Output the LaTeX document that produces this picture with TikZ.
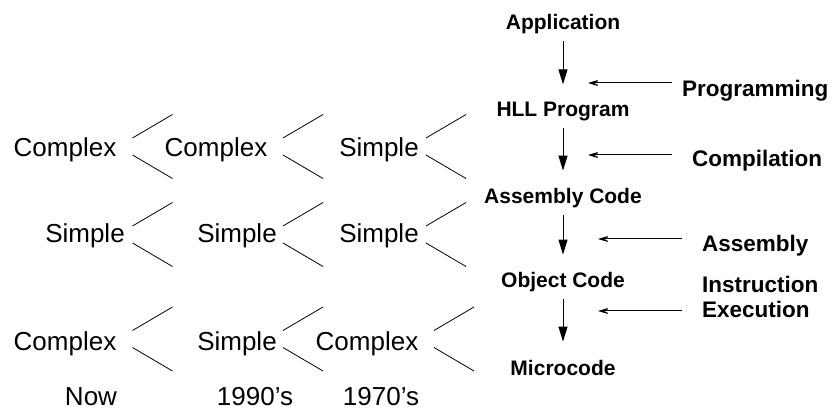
\documentclass[tikz,border=0pt]{standalone}
\usepackage{fontspec}
\setmainfont{Liberation Sans}
\usetikzlibrary{arrows.meta, positioning, calc}
\tikzset{
    era/.style      ={anchor=base, inner sep=0pt, font=\fontsize{26}{28}\selectfont},
    level/.style    ={anchor=base, inner sep=3pt, font=\bfseries\fontsize{21}{24}\selectfont},
    stage/.style    ={anchor=base west, inner sep=2pt, align=left, font=\bfseries\fontsize{22.5}{25}\selectfont},
    downarrow/.style={-{Triangle[length=15pt,width=9pt]}, line width=1pt, shorten <=3pt, shorten >=15pt},
    sidearrow/.style={-{Stealth[length=15pt,width=9pt,inset=9pt]}, line width=1pt},
    forkline/.style ={line width=0.8pt},
    fork/.pic={\draw[forkline] (0,-8.5)--(40,-32); \draw[forkline] (0,8.5)--(40,32);},
}

\begin{document}
\begin{tikzpicture}[x=1pt, y=-1pt]
    \useasboundingbox (0,0) rectangle (840,411);
    % levels of translation
    \node[level] (app) at (563,30){Application};
    \node[level] (hll) at (563,117){HLL Program};
    \node[level] (asm) at (563,204){Assembly Code};
    \node[level] (obj) at (563,288){Object Code};
    \node[level] (micro) at (563,375){Microcode};
    \draw[downarrow](app)--(hll);
    \draw[downarrow](hll)--(asm);
    \draw[downarrow](asm)--(obj);
    \draw[downarrow](obj)--(micro);
    % steps between them
    \node[stage] (prog) at (680,97){Programming};
    \node[stage] (comp) at (690,167){Compilation};
    \node[stage] (assem) at (700,252){Assembly};
    \node[stage] (exec) at (700,318){Instruction\\Execution};
    \coordinate (tprog) at (588,83);
    \coordinate (tcomp) at (588,155);
    \coordinate (tassem) at (598,239);
    \coordinate (texec) at (598,311);
    \draw[sidearrow, shorten <=8pt](tprog -| prog.west)--(tprog);
    \draw[sidearrow, shorten <=18pt](tcomp -| comp.west)--(tcomp);
    \draw[sidearrow, shorten <=18pt](tassem -| assem.west)--(tassem);
    \draw[sidearrow, shorten <=18pt](texec -| exec.west)--(texec);
    % complexity per era
    \node[era] (now1) at (65,157){Complex};
    \node[era] (now2) at (85,243){Simple};
    \node[era] (now3) at (65,350){Complex};
    \node[era] (nin1) at (216,157){Complex};
    \node[era] (nin2) at (237,243){Simple};
    \node[era] (nin3) at (237,350){Simple};
    \node[era] (sev1) at (379,157){Simple};
    \node[era] (sev2) at (379,243){Simple};
    \node[era] (sev3) at (367,350){Complex};
    \node[era] (now) at (91,405){Now};
    \node[era] (nin) at (255,405){1990's};
    \node[era] (sev) at (381,405){1970's};
    \pic at (132.5,146.5){fork};
    \pic at (132.5,234.5){fork};
    \pic at (132.5,339){fork};
    \pic at (283,146.5){fork};
    \pic at (283,234.5){fork};
    \pic at (283,339){fork};
    \pic at (426,146.5){fork};
    \pic at (426,234.5){fork};
    \pic at (434,339){fork};
\end{tikzpicture}
\end{document}
